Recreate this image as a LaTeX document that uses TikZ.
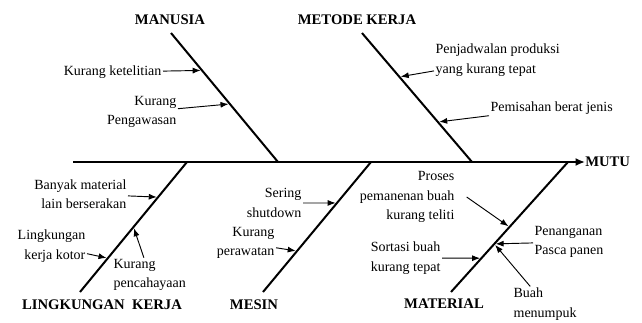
\documentclass[tikz,border=0pt]{standalone}
\usepackage{fontspec}
\setmainfont{Liberation Serif}
\usetikzlibrary{calc,arrows.meta}
\begin{document}
\begin{tikzpicture}[x=0.75pt,y=-0.75pt,
  bone/.style={line width=1.5pt},
  cause/.style={-{Latex[length=6pt,width=4.5pt]},line width=0.7pt,shorten >=1pt},
  cat/.style={font=\fontsize{11}{13}\selectfont\bfseries,inner sep=0pt},
  txt/.style={font=\fontsize{10.5}{14.5}\selectfont,inner sep=1pt}]

\useasboundingbox (0,0) rectangle (642,322);

  % spine
  \coordinate (tail) at (73,162);
  \node[cat,anchor=west] (mutu) at (585,162) {MUTU};
  \draw[line width=2pt,-{Latex[length=7pt,width=6pt]}] (tail) -- (mutu.west);

  % top bones
  \node[cat] (man) at (170,20) {MANUSIA};
  \coordinate (man1) at (171,33);
  \coordinate (man2) at (278,162);
  \node[cat] (met) at (357,20) {METODE KERJA};
  \coordinate (met1) at (362,33);
  \coordinate (met2) at (472,162);

  % bottom bones
  \node[cat] (ling) at (102,305) {LINGKUNGAN\ \ KERJA};
  \coordinate (ling1) at (187,162);
  \coordinate (ling2) at (80,292);
  \node[cat] (mes) at (254,305) {MESIN};
  \coordinate (mes1) at (371,162);
  \coordinate (mes2) at (263,292);
  \node[cat] (mat) at (444,304) {MATERIAL};
  \coordinate (mat1) at (568,162);
  \coordinate (mat2) at (451,292);

  \draw[bone] (man1) -- (man2);
  \draw[bone] (met1) -- (met2);
  \draw[bone] (ling1) -- (ling2);
  \draw[bone] (mes1) -- (mes2);
  \draw[bone] (mat1) -- (mat2);

  % points on the bones
  \coordinate (pman1) at ($(man1)!0.29!(man2)$);
  \coordinate (pman2) at ($(man1)!0.55!(man2)$);
  \coordinate (pmet1) at ($(met1)!0.34!(met2)$);
  \coordinate (pmet2) at ($(met1)!0.69!(met2)$);
  \coordinate (pling1) at ($(ling1)!0.27!(ling2)$);
  \coordinate (pling2) at ($(ling1)!0.5!(ling2)$);
  \coordinate (pling3) at ($(ling1)!0.74!(ling2)$);
  \coordinate (pmes1) at ($(mes1)!0.315!(mes2)$);
  \coordinate (pmes2) at ($(mes1)!0.685!(mes2)$);
  \coordinate (pmat1) at ($(mat1)!0.5!(mat2)$);
  \coordinate (pmat2) at ($(mat1)!0.63!(mat2)$);
  \coordinate (pmat3) at ($(mat1)!0.74!(mat2)$);

  % causes
  \node[txt,anchor=east] (kket) at (163,72) {Kurang ketelitian};
  \node[txt,anchor=east,align=right] (kpeng) at (178,112) {Kurang\\Pengawasan};
  \node[txt,anchor=west,align=left] (jadwal) at (434,60) {Penjadwalan produksi\\yang kurang tepat};
  \node[txt,anchor=west] (pisah) at (489,108) {Pemisahan berat jenis};
  \node[txt,anchor=east,align=right] (banyak) at (128,194) {Banyak material\\lain berserakan};
  \node[txt,anchor=east,align=right] (kotor) at (87,246) {Lingkungan\\kerja kotor};
  \node[txt,anchor=west,align=left] (cahaya) at (112,275) {Kurang\\pencahayaan};
  \node[txt,anchor=east,align=right] (sering) at (303,203) {Sering\\shutdown};
  \node[txt,anchor=east,align=right] (rawat) at (276,243) {Kurang\\perawatan};
  \node[txt,anchor=east,align=right] (panen) at (456,197) {Proses\\pemanenan buah\\kurang teliti};
  \node[txt,anchor=west,align=left] (pasca) at (533,242) {Penanganan\\Pasca panen};
  \node[txt,anchor=east,align=right] (sortasi) at (442,258) {Sortasi buah\\kurang tepat};
  \node[txt,anchor=west,align=left] (tumpuk) at (512,304) {Buah\\menumpuk};

  \path[cause]
    (kket) edge (pman1)
    (kpeng) edge (pman2)
    (jadwal) edge (pmet1)
    (pisah) edge (pmet2)
    (banyak) edge (pling1)
    (cahaya) edge (pling2)
    (kotor) edge (pling3)
    (sering.east) edge (pmes1)
    (rawat) edge (pmes2)
    ([xshift=8pt]panen.east) edge (pmat1)
    (pasca) edge (pmat2)
    (tumpuk) edge (pmat2)
    (sortasi) edge (pmat3);

\end{tikzpicture}
\end{document}
